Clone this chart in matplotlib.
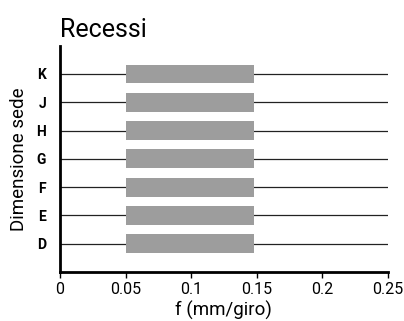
import matplotlib
matplotlib.use("Agg")
import matplotlib.pyplot as plt

plt.rcParams['font.family'] = ['Roboto', 'DejaVu Sans']

sizes = ["D", "E", "F", "G", "H", "J", "K"]
feed_min = [0.05, 0.05, 0.05, 0.05, 0.05, 0.05, 0.05]
feed_max = [0.148, 0.148, 0.148, 0.148, 0.148, 0.148, 0.148]
x_ticks = [0, 0.05, 0.1, 0.15, 0.2, 0.25]
x_tick_labels = ["0", "0.05", "0.1", "0.15", "0.2", "0.25"]

fig = plt.figure(figsize=(4.04, 3.21), dpi=100)
ax = fig.add_axes([0.1485, 0.1526, 0.8115, 0.705])

pos = list(range(len(sizes)))
for y in pos:
    ax.axhline(y, color="#222222", lw=0.9, zorder=1)
widths = [b - a for a, b in zip(feed_min, feed_max)]
ax.barh(pos, widths, left=feed_min, height=0.67, color="#9d9d9d", zorder=2)

ax.set_xlim(0, 0.25)
ax.set_ylim(-1, len(sizes))
ax.set_yticks(pos)
ax.set_yticklabels(sizes, fontsize=10, fontweight="semibold")
ax.set_xticks(x_ticks)
ax.set_xticklabels(x_tick_labels, fontsize=11.5)
ax.tick_params(axis="y", length=0, pad=10)
ax.tick_params(axis="x", length=4, width=1, direction="out", pad=3)

for side in ("top", "right"):
    ax.spines[side].set_visible(False)
for side in ("left", "bottom"):
    ax.spines[side].set_linewidth(2)

ax.set_xlabel("f (mm/giro)", fontsize=13.5, labelpad=3)
ax.set_ylabel("Dimensione sede", fontsize=13.5, labelpad=6)
ax.set_title("Recessi", loc="left", fontsize=18, pad=6)

fig.savefig("out.png", dpi=100)
